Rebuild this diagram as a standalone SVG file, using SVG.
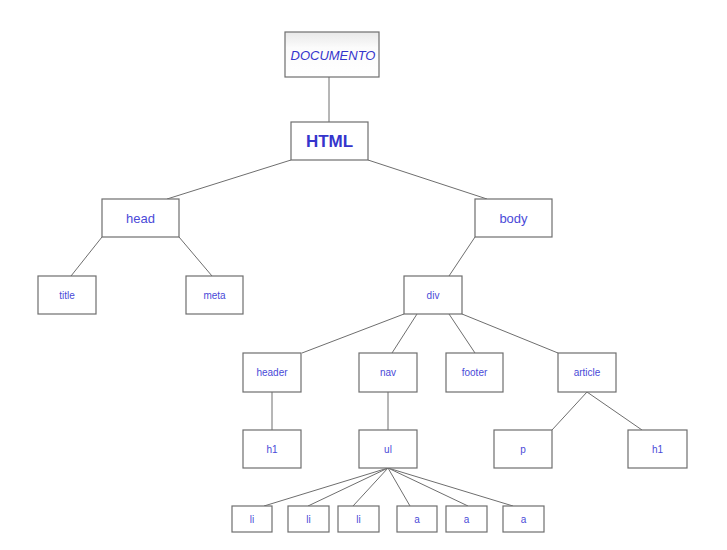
<svg xmlns="http://www.w3.org/2000/svg" width="727" height="550" viewBox="0 0 727 550">
<defs>
<linearGradient id="g" x1="0" y1="0" x2="0" y2="1">
<stop offset="0" stop-color="#e8e8e8"/>
<stop offset="0.35" stop-color="#fbfbfb"/>
<stop offset="1" stop-color="#ffffff"/>
</linearGradient>
<style>
rect{fill:#fff;stroke:#6e6e6e;stroke-width:1.2}
.doc rect{fill:url(#g)}
text{font-family:"Liberation Sans",Arial,sans-serif;fill:#4a4ad8;text-anchor:middle;dominant-baseline:central}
.s{font-size:10px}
.m{font-size:13px}
#connectors line{stroke:#6e6e6e;stroke-width:1}
</style>
</defs>
<rect x="0" y="0" width="727" height="550" style="fill:#fff;stroke:none"/>
<g id="connectors">
<line x1="329" y1="77" x2="329" y2="122"/>
<line x1="291" y1="160" x2="167" y2="199"/>
<line x1="368" y1="160" x2="487" y2="199"/>
<line x1="102" y1="237" x2="71" y2="276"/>
<line x1="179" y1="237" x2="212" y2="276"/>
<line x1="475" y1="237" x2="449" y2="276"/>
<line x1="404" y1="314" x2="302" y2="353"/>
<line x1="417" y1="314" x2="392" y2="353"/>
<line x1="449" y1="314" x2="475" y2="353"/>
<line x1="462" y1="314" x2="558" y2="353"/>
<line x1="272" y1="392" x2="272" y2="430"/>
<line x1="388" y1="392" x2="388" y2="430"/>
<line x1="587" y1="392" x2="552" y2="430"/>
<line x1="587" y1="392" x2="642" y2="430"/>
<line x1="388" y1="468" x2="264" y2="506"/>
<line x1="388" y1="468" x2="308" y2="506"/>
<line x1="388" y1="468" x2="353" y2="506"/>
<line x1="388" y1="468" x2="410" y2="506"/>
<line x1="388" y1="468" x2="468" y2="506"/>
<line x1="388" y1="468" x2="513" y2="506"/>
</g>
<g id="documento" class="doc"><rect x="285" y="32" width="94" height="45"/><text x="333" y="55" style="font-size:13px;font-style:italic;fill:#3535cc">DOCUMENTO</text></g>
<g id="html"><rect x="291" y="122" width="77" height="38"/><text x="329.5" y="141" style="font-size:17px;font-weight:bold;fill:#3535cc">HTML</text></g>
<g id="head"><rect x="102" y="199" width="77" height="38"/><text class="m" x="140.5" y="218">head</text></g>
<g id="body"><rect x="475" y="199" width="77" height="38"/><text class="m" x="513.5" y="218">body</text></g>
<g id="title"><rect x="38" y="276" width="58" height="38"/><text class="s" x="67" y="295">title</text></g>
<g id="meta"><rect x="186" y="276" width="57" height="38"/><text class="s" x="214.5" y="295">meta</text></g>
<g id="div"><rect x="404" y="276" width="58" height="38"/><text class="s" x="433" y="295">div</text></g>
<g id="header"><rect x="243" y="353" width="58" height="39"/><text class="s" x="272" y="372.5">header</text></g>
<g id="nav"><rect x="359" y="353" width="58" height="39"/><text class="s" x="388" y="372.5">nav</text></g>
<g id="footer"><rect x="446" y="353" width="57" height="39"/><text class="s" x="474.5" y="372.5">footer</text></g>
<g id="article"><rect x="558" y="353" width="58" height="39"/><text class="s" x="587" y="372.5">article</text></g>
<g id="h1a"><rect x="243" y="430" width="58" height="38"/><text class="s" x="272" y="449">h1</text></g>
<g id="ul"><rect x="359" y="430" width="58" height="38"/><text class="s" x="388" y="449">ul</text></g>
<g id="p"><rect x="494" y="430" width="58" height="38"/><text class="s" x="523" y="449">p</text></g>
<g id="h1b"><rect x="628" y="430" width="59" height="38"/><text class="s" x="657.5" y="449">h1</text></g>
<g id="li1"><rect x="232" y="506" width="40" height="26"/><text class="s" x="252" y="519">li</text></g>
<g id="li2"><rect x="288" y="506" width="41" height="26"/><text class="s" x="308.5" y="519">li</text></g>
<g id="li3"><rect x="338" y="506" width="41" height="26"/><text class="s" x="358.5" y="519">li</text></g>
<g id="a1"><rect x="397" y="506" width="40" height="26"/><text class="s" x="417" y="519">a</text></g>
<g id="a2"><rect x="446" y="506" width="41" height="26"/><text class="s" x="466.5" y="519">a</text></g>
<g id="a3"><rect x="503" y="506" width="41" height="26"/><text class="s" x="523.5" y="519">a</text></g>
</svg>
